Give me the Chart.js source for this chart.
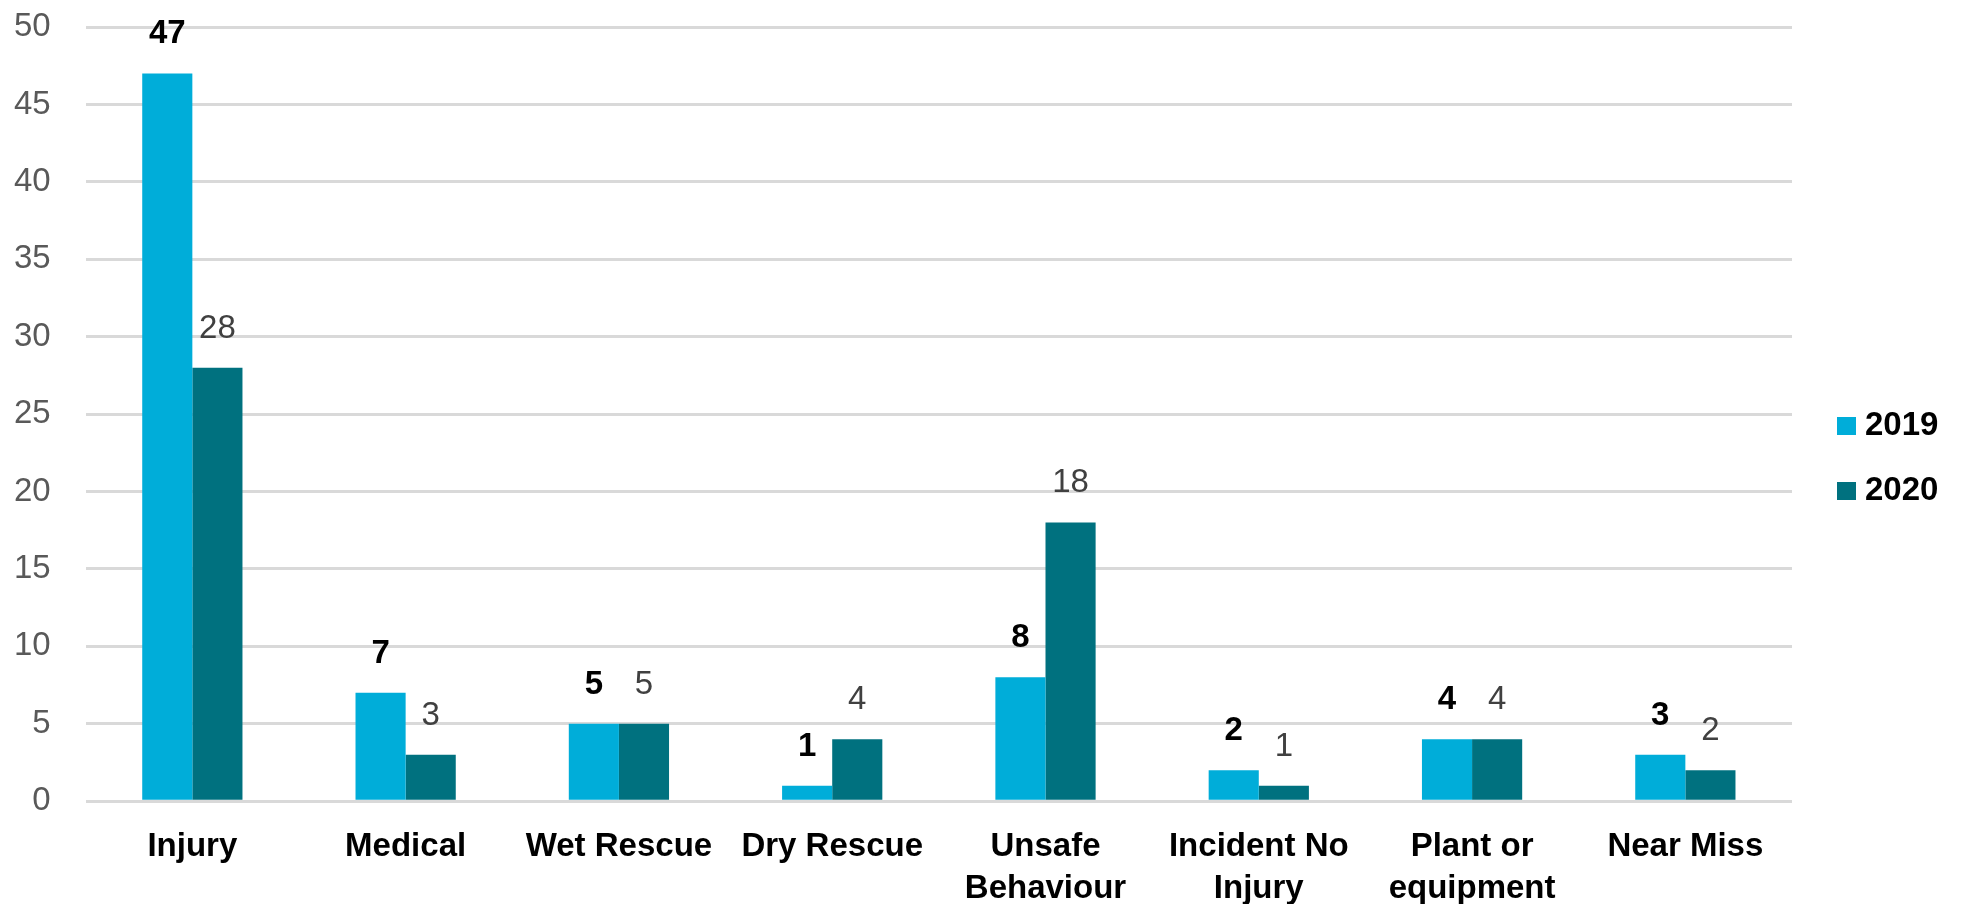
<!DOCTYPE html>
<html lang="en">
<head>
    <meta charset="UTF-8">
    <title>Incidents 2019 vs 2020</title>
    <style>
        body {
            margin: 0;
            background: #fff;
        }
        .chart-box {
            width: 1965px;
            height: 904px;
        }
    </style>
</head>
<body>
    <div class="chart-box">
        <canvas id="incidentChart" width="1965" height="904"></canvas>
    </div>

    <script src="https://cdn.jsdelivr.net/npm/chart.js"></script>
    <script>
        // data
        var categories = [['Injury'], ['Medical'], ['Wet Rescue'], ['Dry Rescue'], ['Unsafe', 'Behaviour'], ['Incident No', 'Injury'], ['Plant or', 'equipment'], ['Near Miss']];
        var seriesNames = ['2019', '2020'];
        var values2019 = [47, 7, 5, 1, 8, 2, 4, 3];
        var values2020 = [28, 3, 5, 4, 18, 1, 4, 2];
        var yTicks = [0, 5, 10, 15, 20, 25, 30, 35, 40, 45, 50];

        var colors = ['#00ADD9', '#00717F'];
        var fontFamily = '"Liberation Sans", Arial, sans-serif';
        var labelStyles = [
            { font: 'bold 33px ' + fontFamily, color: '#000000' },
            { font: '33px ' + fontFamily, color: '#404040' }
        ];

        // value labels above each bar
        var valueLabels = {
            id: 'valueLabels',
            afterDatasetsDraw: function (chart) {
                var ctx = chart.ctx;
                ctx.save();
                ctx.textAlign = 'center';
                ctx.textBaseline = 'alphabetic';
                chart.data.datasets.forEach(function (ds, i) {
                    var meta = chart.getDatasetMeta(i);
                    ctx.font = labelStyles[i].font;
                    ctx.fillStyle = labelStyles[i].color;
                    meta.data.forEach(function (bar, j) {
                        ctx.fillText(ds.data[j], bar.x, bar.y - 30);
                    });
                });
                ctx.restore();
            }
        };

        // legend on the right, drawn by hand so the spacing matches
        var sideLegend = {
            id: 'sideLegend',
            afterDraw: function (chart) {
                var ctx = chart.ctx;
                var x = 1837;
                var ys = [426, 491];
                ctx.save();
                ctx.font = 'bold 33px ' + fontFamily;
                ctx.textBaseline = 'middle';
                ctx.textAlign = 'left';
                chart.data.datasets.forEach(function (ds, i) {
                    ctx.fillStyle = ds.backgroundColor;
                    ctx.fillRect(x, ys[i] - 9, 19, 18);
                    ctx.fillStyle = '#000000';
                    ctx.fillText(ds.label, x + 28, ys[i]);
                });
                ctx.restore();
            }
        };

        var ctx = document.getElementById('incidentChart').getContext('2d');
        var incidentChart = new Chart(ctx, {
            type: 'bar',
            data: {
                labels: categories,
                datasets: [{
                    label: seriesNames[0],
                    data: values2019,
                    backgroundColor: colors[0],
                    categoryPercentage: 0.47,
                    barPercentage: 1.0
                }, {
                    label: seriesNames[1],
                    data: values2020,
                    backgroundColor: colors[1],
                    categoryPercentage: 0.47,
                    barPercentage: 1.0
                }]
            },
            options: {
                responsive: false,
                animation: false,
                layout: {
                    padding: { left: 14, right: 173, top: 27, bottom: -23 }
                },
                plugins: {
                    legend: { display: false },
                    tooltip: { enabled: false }
                },
                scales: {
                    x: {
                        grid: { display: false },
                        border: { display: false },
                        ticks: {
                            color: '#000000',
                            padding: 17,
                            maxRotation: 0,
                            autoSkip: false,
                            font: { family: fontFamily, size: 33, weight: 'bold', lineHeight: 1.27 }
                        }
                    },
                    y: {
                        min: 0,
                        max: 50,
                        afterBuildTicks: function (axis) {
                            axis.ticks = yTicks.map(function (v) { return { value: v }; });
                        },
                        // invisible tick marks give the gap between labels and plot
                        grid: { color: '#D9D9D9', lineWidth: 3, drawTicks: true, tickLength: 35, tickColor: 'rgba(0,0,0,0)' },
                        border: { display: false },
                        ticks: {
                            color: '#595959',
                            padding: 0,
                            font: { family: fontFamily, size: 33 }
                        }
                    }
                }
            },
            plugins: [valueLabels, sideLegend]
        });
    </script>
</body>
</html>
